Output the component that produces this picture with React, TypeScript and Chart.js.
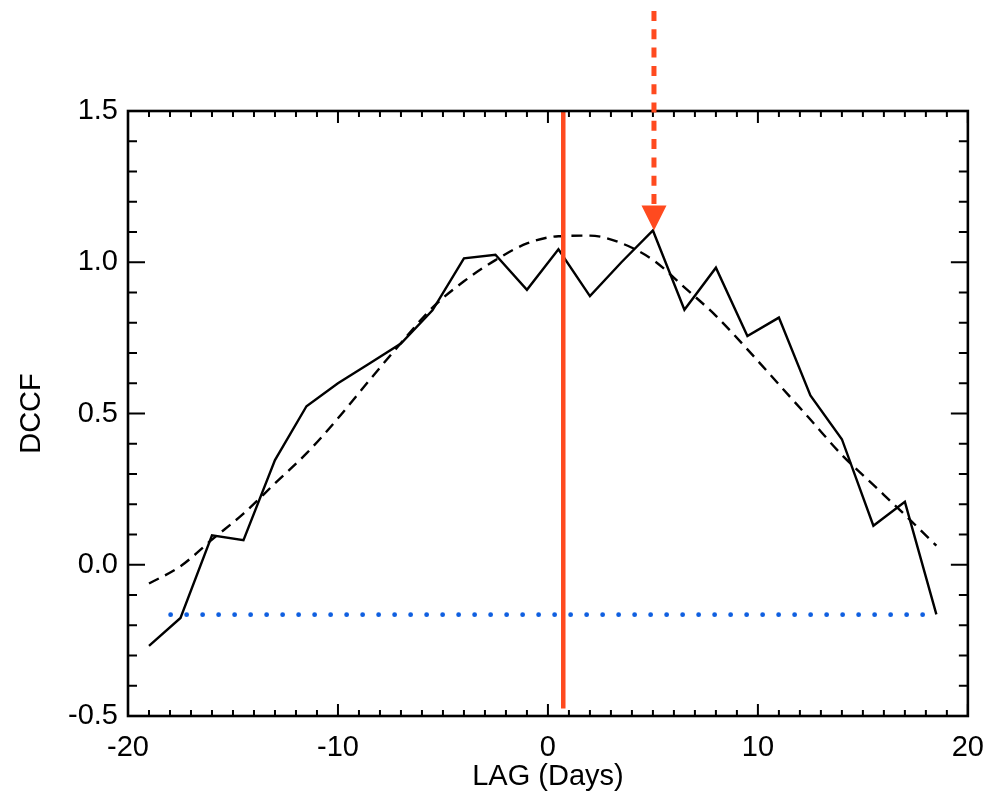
import React, { useEffect, useRef } from 'react';
import { Chart, registerables } from 'chart.js';

Chart.register(...registerables);

// ---- data ----
const lags = [-19, -17.5, -16, -14.5, -13, -11.5, -10, -8.5, -7, -5.5, -4, -2.5, -1, 0.5, 2, 3.5, 5, 6.5, 8, 9.5, 11, 12.5, 14, 15.5, 17, 18.5];
const dccf = [-0.268, -0.176, 0.097, 0.081, 0.346, 0.524, 0.6, 0.665, 0.731, 0.841, 1.013, 1.025, 0.909, 1.043, 0.888, 1.0, 1.105, 0.843, 0.982, 0.756, 0.817, 0.56, 0.415, 0.129, 0.208, -0.164];
const fitDccf = [-0.062, -0.005, 0.083, 0.169, 0.269, 0.368, 0.484, 0.61, 0.733, 0.85, 0.937, 1.007, 1.062, 1.086, 1.088, 1.063, 1.008, 0.917, 0.823, 0.712, 0.596, 0.48, 0.363, 0.264, 0.165, 0.063];

const noiseLevel = -0.165;
const noiseLagRange = [-17.97, 18.15];
const centroidLag = 0.73;
const centroidRange = [-0.475, 1.5];
const peakLag = 5.05;
const peakDccf = 1.105;

const xTickLabels = ['-20', '-10', '0', '10', '20'];
const yTickLabels = ['-0.5', '0.0', '0.5', '1.0', '1.5'];
const xRange = [-20, 20];
const yRange = [-0.5, 1.5];

const FONT = "'Liberation Sans', Arial, Helvetica, sans-serif";
const FONT_SIZE = 29;
const RED = '#ff4a1f';
const BLUE = '#0f5fe0';

const isMajorX = (v: number) => Math.abs(v / 10 - Math.round(v / 10)) < 1e-6;
const isMajorY = (v: number) => Math.abs(v * 2 - Math.round(v * 2)) < 1e-6;

const framePlugin = {
  id: 'frameTicks',
  afterDatasetsDraw(chart: any) {
    const { ctx, chartArea, scales } = chart;
    const { left, right, top, bottom } = chartArea;
    const xs = scales.x;
    const ys = scales.y;
    ctx.save();
    ctx.strokeStyle = '#000';
    ctx.lineCap = 'butt';
    ctx.lineWidth = 2;
    ctx.beginPath();
    xs.ticks.forEach((t: any) => {
      const px = xs.getPixelForValue(t.value);
      const len = isMajorX(t.value) ? 12 : 6;
      ctx.moveTo(px, bottom);
      ctx.lineTo(px, bottom - len);
      ctx.moveTo(px, top);
      ctx.lineTo(px, top + len);
    });
    ys.ticks.forEach((t: any) => {
      const py = ys.getPixelForValue(t.value);
      const len = isMajorY(t.value) ? 17 : 9;
      ctx.moveTo(left, py);
      ctx.lineTo(left + len, py);
      ctx.moveTo(right, py);
      ctx.lineTo(right - len, py);
    });
    ctx.stroke();
    ctx.lineWidth = 2.6;
    ctx.strokeRect(left, top, right - left, bottom - top);
    ctx.restore();
  },
  afterDraw(chart: any) {
    const { ctx, scales } = chart;
    const px = scales.x.getPixelForValue(peakLag);
    const tipY = scales.y.getPixelForValue(peakDccf);
    const headLen = 25;
    const headHalf = 12.5;
    ctx.save();
    ctx.strokeStyle = RED;
    ctx.fillStyle = RED;
    ctx.lineWidth = 5;
    ctx.setLineDash([10, 8.3]);
    ctx.beginPath();
    ctx.moveTo(px, 11);
    ctx.lineTo(px, tipY - headLen);
    ctx.stroke();
    ctx.setLineDash([]);
    ctx.beginPath();
    ctx.moveTo(px - headHalf, tipY - headLen);
    ctx.lineTo(px + headHalf, tipY - headLen);
    ctx.lineTo(px, tipY);
    ctx.closePath();
    ctx.fill();
    ctx.restore();
  },
};

export default function App() {
  const ref = useRef<HTMLCanvasElement | null>(null);

  useEffect(() => {
    if (!ref.current) return;
    const chart = new Chart(ref.current, {
      type: 'line',
      data: {
        datasets: [
          {
            label: 'centroid',
            data: centroidRange.map((y) => ({ x: centroidLag, y })),
            borderColor: RED,
            borderWidth: 4.5,
            pointRadius: 0,
            fill: false,
          },
          {
            label: 'DCCF',
            data: lags.map((x, i) => ({ x, y: dccf[i] })),
            borderColor: '#000',
            borderWidth: 2.4,
            pointRadius: 0,
            tension: 0,
            fill: false,
          },
          {
            label: 'fit',
            data: lags.map((x, i) => ({ x, y: fitDccf[i] })),
            borderColor: '#000',
            borderWidth: 2.4,
            borderDash: [11, 7],
            pointRadius: 0,
            cubicInterpolationMode: 'monotone',
            fill: false,
          },
          {
            label: 'noise',
            data: noiseLagRange.map((x) => ({ x, y: noiseLevel })),
            borderColor: BLUE,
            borderWidth: 4.8,
            borderDash: [0.01, 15.99],
            borderCapStyle: 'round',
            pointRadius: 0,
            fill: false,
          },
        ],
      },
      options: {
        responsive: false,
        animation: false,
        events: [],
        layout: { padding: { top: 111, right: 19, left: 0, bottom: 0 } },
        plugins: {
          legend: { display: false },
          tooltip: { enabled: false },
          title: { display: false },
        },
        scales: {
          x: {
            type: 'linear',
            min: xRange[0],
            max: xRange[1],
            grid: { display: false, drawTicks: false },
            border: { display: false },
            afterFit: (s: any) => {
              s.height = 78;
            },
            ticks: {
              stepSize: 1,
              autoSkip: false,
              maxRotation: 0,
              padding: 15,
              color: '#000',
              font: { family: FONT, size: FONT_SIZE },
              callback: (v: any) => {
                const s = String(Math.round(Number(v)));
                return isMajorX(Number(v)) && xTickLabels.includes(s) ? s : '';
              },
            },
            title: {
              display: true,
              text: 'LAG (Days)',
              color: '#000',
              font: { family: FONT, size: FONT_SIZE },
              padding: { top: 0, bottom: 0 },
            },
          },
          y: {
            type: 'linear',
            min: yRange[0],
            max: yRange[1],
            grid: { display: false, drawTicks: false },
            border: { display: false },
            afterFit: (s: any) => {
              s.width = 128;
            },
            ticks: {
              stepSize: 0.1,
              autoSkip: false,
              padding: 10,
              color: '#000',
              font: { family: FONT, size: FONT_SIZE },
              callback: (v: any) => {
                let n = Number(v);
                if (Math.abs(n) < 1e-9) n = 0;
                const s = n.toFixed(1);
                return isMajorY(n) && yTickLabels.includes(s) ? s : '';
              },
            },
            title: {
              display: true,
              text: 'DCCF',
              color: '#000',
              font: { family: FONT, size: FONT_SIZE },
              padding: { top: 15, bottom: 0 },
            },
          },
        },
      },
      plugins: [framePlugin],
    } as any);
    return () => chart.destroy();
  }, []);

  return (
    <div style={{ position: 'fixed', left: 0, top: 0, width: 999, height: 794, background: '#fff' }}>
      <canvas ref={ref} width={999} height={794} style={{ display: 'block' }} />
    </div>
  );
}
